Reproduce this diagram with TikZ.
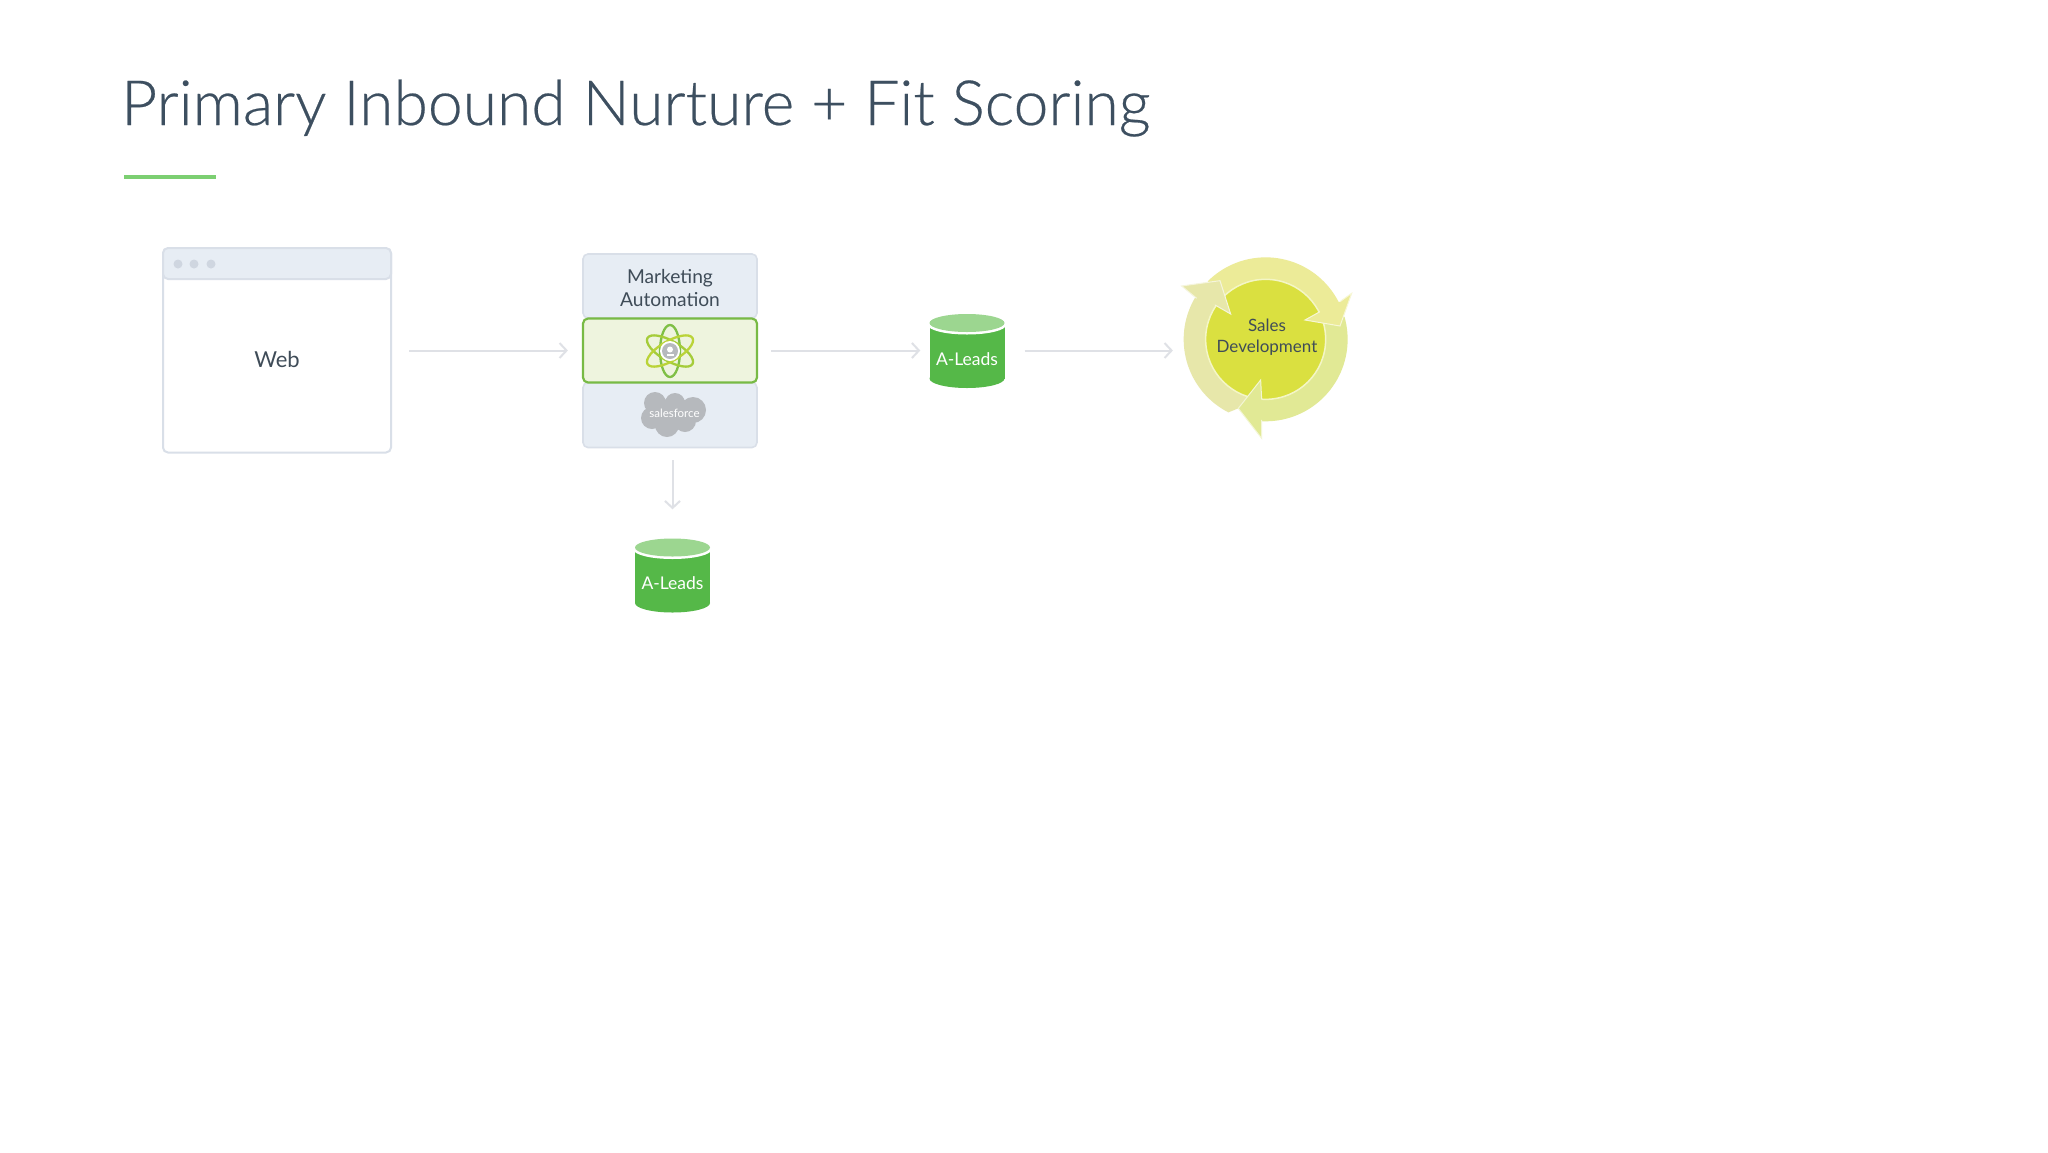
\documentclass[tikz,border=0pt]{standalone}
\usepackage{fontspec}
\setmainfont{Lato}
\newfontfamily\lightfont{Lato Light}[FakeBold=0.35]
\usetikzlibrary{arrows.meta}
\definecolor{titleink}{HTML}{3D4F60}
\definecolor{ink}{HTML}{3F4C58}
\definecolor{rulegreen}{HTML}{7CCF72}
\definecolor{panel}{HTML}{E7EDF4}
\definecolor{panelline}{HTML}{D9DFE8}
\definecolor{dotgrey}{HTML}{CFD6E0}
\definecolor{greenfill}{HTML}{EEF4DE}
\definecolor{greenline}{HTML}{78BA45}
\definecolor{cylbody}{HTML}{55B848}
\definecolor{cyltop}{HTML}{9CD690}
\definecolor{conn}{HTML}{DFE1E6}
\definecolor{disc}{HTML}{DAE040}
\definecolor{arrowa}{HTML}{ECEB98}
\definecolor{arrowb}{HTML}{E1E995}
\definecolor{arrowc}{HTML}{E7E7AA}
\definecolor{cloudgrey}{HTML}{B6B9BD}
\definecolor{atoma}{HTML}{7FBF45}
\definecolor{atomb}{HTML}{A5CC3A}
\definecolor{atomc}{HTML}{BAD338}
\tikzset{
  x=1pt,y=-1pt,
  panelbox/.style={draw=panelline,line width=1.6pt,fill=panel,rounded corners=5pt,inner sep=0pt,minimum width=174pt},
  webbox/.style={draw=panelline,line width=2pt,fill=white,rounded corners=5pt,inner sep=0pt,minimum width=228pt,minimum height=204pt},
  connector/.style={draw=conn,line width=2pt,-{Straight Barb[length=7pt,width=15pt,line width=2pt]}},
  txt/.style={text=ink,inner sep=0pt,font=\fontsize{19.2}{23.5}\selectfont}
}
\newcommand{\leadscyl}[3]{%
  \begin{scope}[shift={(#2,#3)}]
    \fill[cylbody] (-37.5,-27.5) rectangle (37.5,27.5);
    \fill[cylbody] (0,27.5) ellipse (37.5 and 9.5);
    \fill[white] (0,-26) ellipse (39 and 9.5);
    \fill[cyltop] (0,-28) ellipse (37.5 and 9);
  \end{scope}
  \node[minimum width=75pt,minimum height=74pt,inner sep=0pt] (#1) at (#2,#3) {};
  \node[text=white,inner sep=0pt,font=\fontsize{17.5}{20}\selectfont] (#1label) at (#2,#3+8) {A-Leads};
}
\begin{document}
\begin{tikzpicture}
\useasboundingbox (0,0) rectangle (2048,1152);
\fill[white] (0,0) rectangle (2048,1152);

% title
\node[anchor=base west,inner sep=0pt,text=titleink,font=\lightfont\fontsize{62.4}{70}\selectfont] (title) at (121,125) {Primary Inbound Nurture + Fit Scoring};
\fill[rulegreen] (124,175) rectangle (216,179);

% web window
\node[webbox] (web) at (277,350.5) {};
\node[panelbox,minimum width=228pt,minimum height=31pt,line width=2pt] (webhead) at (277,263.5) {};
\foreach \dx in {178,194,211} \fill[dotgrey] (\dx,264) circle (4.5);
\node[txt,font=\fontsize{22}{26}\selectfont] (weblabel) at (277,359) {Web};

% marketing stack
\node[panelbox,minimum height=64pt] (matop) at (670,286) {};
\node[panelbox,minimum height=65pt] (mabot) at (670,415) {};
\node[panelbox,draw=greenline,fill=greenfill,minimum height=64pt,line width=2.2pt] (magreen) at (670,350.5) {};
\node[txt,align=center] (malabel) at (670,288) {Marketing\\Automation};

% atom icon
\begin{scope}[shift={(670,351)}]
  \draw[atoma,line width=2.3pt] (0,0) ellipse (10 and 26);
  \draw[atomb,line width=2.3pt,rotate=60] (0,0) ellipse (10 and 26);
  \draw[atomc,line width=2.3pt,rotate=-60] (0,0) ellipse (10 and 26);
  \fill[white] (0,0) circle (10);
  \fill[cloudgrey] (0,0) circle (8);
  \fill[white] (0,-1.5) circle (3);
  \fill[white] (-3.5,5) rectangle (3.5,2.5);
\end{scope}

% salesforce cloud
\fill[cloudgrey] (655,403) circle (11) (675,403) circle (10) (693,410) circle (13)
  (652,418) circle (11) (667,425) circle (12) (685,421) circle (11) (672,413) circle (15);
\node[text=white,inner sep=0pt,font=\fontsize{11.5}{14}\selectfont] (sf) at (674.5,413) {salesforce};

% cylinders
\leadscyl{cylA}{967}{351}
\leadscyl{cylB}{672.5}{575.5}

% cycle
\begin{scope}[shift={(1160,240)},x=0.3333pt,y=-0.3333pt]
  \fill[arrowa] plot[domain=135:25,samples=40] ({317+246*cos(\x)},{298-246*sin(\x)})
     -- plot[domain=25:135,samples=40] ({317+181*cos(\x)},{298-181*sin(\x)}) -- cycle;
  \fill[arrowb] plot[domain=16:-95,samples=40] ({317+246*cos(\x)},{298-246*sin(\x)})
     -- plot[domain=-95:16,samples=40] ({317+181*cos(\x)},{298-181*sin(\x)}) -- cycle;
  \fill[arrowc] plot[domain=243:146,samples=40] ({317+246*cos(\x)},{298-246*sin(\x)})
     -- plot[domain=146:254,samples=40] ({317+181*cos(\x)},{298-181*sin(\x)}) -- (235,505) -- cycle;
  \node[circle,fill=disc,draw=white!70!disc,line width=1.5pt,minimum size=120pt,inner sep=0pt] (sd) at (317,298) {};
  \path[fill=arrowa,draw=white!60!arrowa,line width=1pt] (540,185) -- (575,160) -- (540,258) -- (435,240) -- (480,215);
  \path[fill=arrowb,draw=white!60!arrowb,line width=1pt] (305,540) -- (305,595) -- (235,505) -- (302,420) -- (305,478);
  \path[fill=arrowc,draw=white!60!arrowc,line width=1pt] (110,175) -- (65,138) -- (180,122) -- (212,222) -- (165,195);
\end{scope}
\node[txt,font=\fontsize{17}{21}\selectfont,align=center] (sdlabel) at (1267,337.5) {Sales\\Development};

% connectors
\draw[connector] ([xshift=17pt]web.east |- magreen.west) -- ([xshift=-14pt]magreen.west);
\draw[connector] ([xshift=13pt]magreen.east) -- ([xshift=-9pt]magreen.east -| cylA.west);
\draw[connector] ([xshift=20pt]cylA.east |- magreen.east) -- ([xshift=-32pt]magreen.east -| sd.west);
\draw[connector] ([yshift=-12pt]mabot.south -| cylB.north) -- ([yshift=29pt]cylB.north);
\end{tikzpicture}
\end{document}
